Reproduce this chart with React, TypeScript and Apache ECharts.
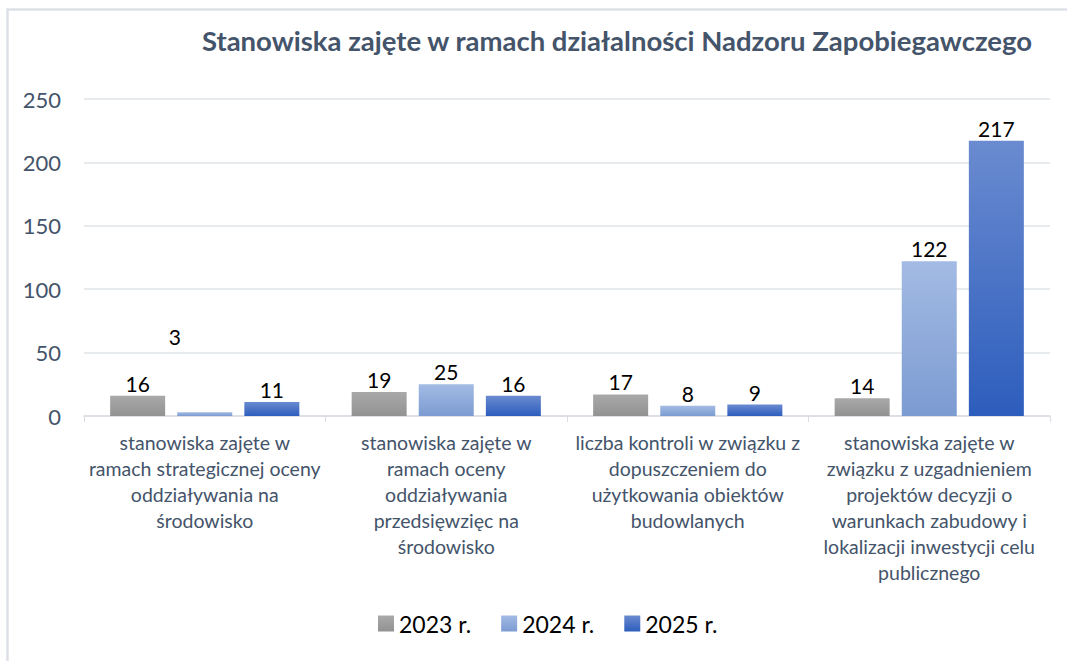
import React, { useEffect, useRef } from "react";
import * as echarts from "echarts";

const categories = [
  "stanowiska zajęte w\nramach strategicznej oceny\noddziaływania na\nśrodowisko",
  "stanowiska zajęte w\nramach oceny\noddziaływania\nprzedsięwzięc na\nśrodowisko",
  "liczba kontroli w związku z\ndopuszczeniem do\nużytkowania obiektów\nbudowlanych",
  "stanowiska zajęte w\nzwiązku z uzgadnieniem\nprojektów decyzji o\nwarunkach zabudowy i\nlokalizacji inwestycji celu\npublicznego",
];
const seriesNames = ["2023 r.", "2024 r.", "2025 r."];
const values2023 = [16, 19, 17, 14];
const values2024 = [3, 25, 8, 122];
const values2025 = [11, 16, 9, 217];
const yTicks = [0, 50, 100, 150, 200, 250];
const title = "Stanowiska zajęte w ramach działalności Nadzoru Zapobiegawczego";

const FONT = "Lato, 'Noto Sans', sans-serif";

const grad = (top: string, bottom: string) =>
  new echarts.graphic.LinearGradient(0, 0, 0, 1, [
    { offset: 0, color: top },
    { offset: 1, color: bottom },
  ]);

export default function App() {
  const ref = useRef<HTMLDivElement>(null);
  useEffect(() => {
    if (!ref.current) return;
    const chart = echarts.init(ref.current, undefined, { renderer: "svg" });
    const colors = [
      grad("#a9a9a9", "#929292"),
      grad("#a3bbe4", "#7c9bd1"),
      grad("#6a8bd0", "#2d5dbd"),
    ];
    const labelBase = {
      show: true,
      position: "top" as const,
      distance: 2,
      color: "#000000",
      fontSize: 21,
      fontFamily: FONT,
    };
    const mk = (i: number, vals: number[]) => ({
      name: seriesNames[i],
      type: "bar" as const,
      barWidth: 55,
      barGap: "22%",
      itemStyle: { color: colors[i] },
      label: labelBase,
      data: vals.map((v, j) =>
        i === 1 && j === 0
          ? { value: v, label: { offset: [-30, -63] } }
          : v
      ),
    });
    chart.setOption({
      animation: false,
      backgroundColor: "#ffffff",
      graphic: [
        {
          type: "rect",
          shape: { x: 7.5, y: 9.5, width: 1200, height: 800 },
          style: { fill: "none", stroke: "#dde1e7", lineWidth: 2.5 },
          silent: true,
          z: -1,
        },
        {
          type: "text",
          x: 617,
          y: 40,
          style: {
            text: title,
            fill: "#44546a",
            font: `bold 27.5px ${FONT}`,
            align: "center",
            verticalAlign: "middle",
          },
        },
      ],
      legend: {
        bottom: 21,
        left: 373,
        icon: "rect",
        itemWidth: 16,
        itemHeight: 16,
        itemGap: 30,
        textStyle: { fontSize: 23, color: "#000000", fontFamily: FONT },
        data: seriesNames,
      },
      grid: { left: 84, right: 17, top: 99, bottom: 245, containLabel: false },
      xAxis: {
        type: "category",
        data: categories,
        axisLine: { lineStyle: { color: "#d9dde3", width: 1.5 } },
        axisTick: { show: true, length: 6, lineStyle: { color: "#d9dde3" } },
        axisLabel: {
          interval: 0,
          fontSize: 19.5,
          lineHeight: 26,
          color: "#44546a",
          fontFamily: FONT,
          margin: 13,
          align: "center",
        },
      },
      yAxis: {
        type: "value",
        min: 0,
        max: 250,
        interval: 50,
        axisLine: { show: false },
        axisTick: { show: false },
        splitLine: { lineStyle: { color: "#e1e4e9", width: 1.5 } },
        axisLabel: {
          fontSize: 22,
          color: "#44546a",
          fontFamily: FONT,
          margin: 23,
          formatter: (v: number) => (yTicks.includes(v) ? String(v) : ""),
        },
      },
      series: [mk(0, values2023), mk(1, values2024), mk(2, values2025)],
    });
    return () => chart.dispose();
  }, []);
  return (
    <div
      ref={ref}
      style={{ position: "fixed", left: 0, top: 0, width: 1067, height: 661 }}
    />
  );
}
